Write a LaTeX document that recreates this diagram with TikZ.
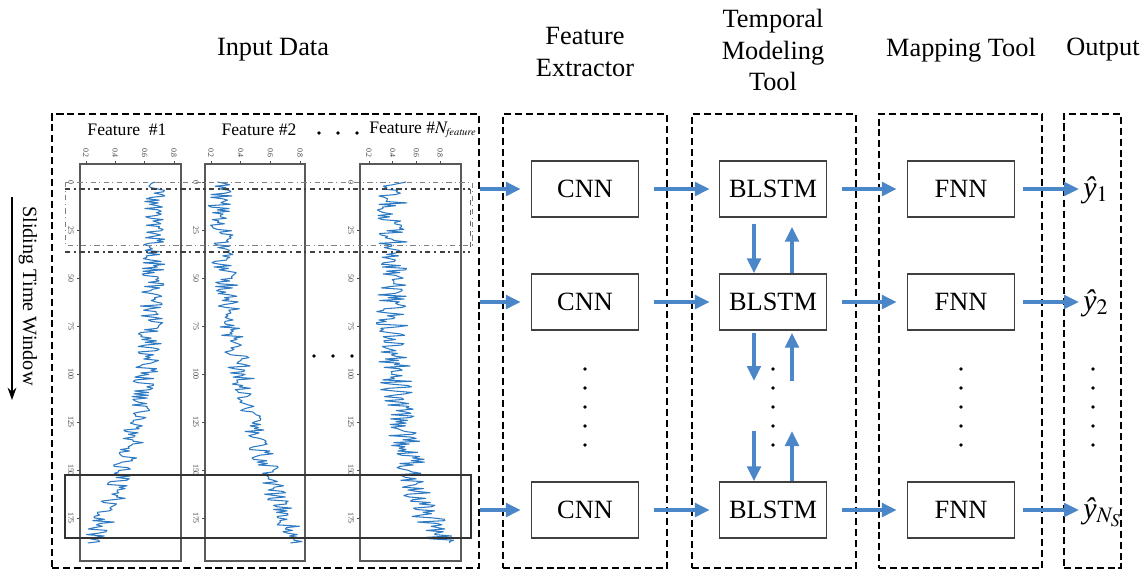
\documentclass[tikz,border=0pt]{standalone}
\usepackage{mathptmx}
\usepackage{fontspec}
\setmainfont{Liberation Serif}
\usetikzlibrary{arrows.meta, positioning}

\definecolor{flowblue}{RGB}{74,134,200}
\definecolor{sigblue}{RGB}{45,122,195}

\begin{document}
\begin{tikzpicture}[
  x=0.02cm, y=-0.02cm,
  font=\fontsize{15}{18}\selectfont,
  stagebox/.style = {
    draw=black, dash pattern=on 4pt off 2.2pt,
    line width=1.1pt, minimum height=9.08cm, inner sep=0pt
  },
  netbox/.style = {
    rectangle, draw=black!75, line width=0.8pt,
    minimum width=2.14cm, minimum height=1.12cm, inner sep=0pt
  },
  headlbl/.style = {align=center, font=\fontsize{15}{18}\selectfont},
  arr/.style = {-{Triangle[length=0.3cm, width=0.27cm]}, line width=2.3pt, flowblue},
  plotframe/.style = {draw=black!65, line width=0.6pt},
  sig/.style = {sigblue, line width=0.6pt, line join=round},
  ticklbl/.style = {font=\fontsize{4.5}{5}\selectfont, rotate=-90, inner sep=0.5pt, text=black!75},
  featlbl/.style = {font=\fontsize{10}{12}\selectfont, inner sep=1pt},
  outlbl/.style = {anchor=base west, inner sep=0pt, font=\fontsize{17}{18}\selectfont}
]
\useasboundingbox (0,0) rectangle (1147,572);

% Stages
\node[stagebox, minimum width=8.54cm] (inbox)  at (265.5,341) {};
\node[stagebox, minimum width=3.28cm] (fexbox) at (585,341) {};
\node[stagebox, minimum width=3.28cm] (tmbox)  at (774,341) {};
\node[stagebox, minimum width=3.26cm] (mapbox) at (960.5,341) {};
\node[stagebox, minimum width=1.14cm] (outbox) at (1092.5,341) {};

% Headers
\node[headlbl] (hin)  at (273,50)  {Input Data};
\node[headlbl] (hfex) at (585,52)  {Feature\\Extractor};
\node[headlbl] (htm)  at (773,50)  {Temporal\\Modeling\\Tool};
\node[headlbl] (hmap) at (961,50)  {Mapping Tool};
\node[headlbl] (hout) at (1103,50) {Output};

% Input data: feature plots
\node[featlbl] (f1)  at (127,130) {Feature~~\#1};
\node[featlbl] (f2)  at (259,130) {Feature \#2};
\node[featlbl] (fn)  at (423,130) {Feature \#$N_{\scriptscriptstyle\mathit{feature}}$};
\foreach \xx in {319,338,357} \fill (\xx,133) circle (1.1pt);
\foreach \xx in {314,333,352} \fill (\xx,356) circle (1.1pt);

\foreach \fl/\fr/\xa/\dx in {80/181/86/29.3, 205/305/211/29.7, 360/461/369/23.7} {
  \draw[plotframe] (\fl,164) rectangle (\fr,561);
  \foreach \lbl [count=\i] in {0.2,0.4,0.6,0.8} {
    \draw[black!70, line width=0.4pt] (\xa+\dx*\i-\dx,164) -- ++(0,-3);
    \node[ticklbl] (tx\fl-\i) at (\xa+\dx*\i-\dx,153) {\lbl};
  }
  \foreach \v in {0,25,...,175} {
    \draw[black!70, line width=0.4pt] (\fl,182+1.92*\v) -- ++(-3,0);
    \node[ticklbl] (lx\fl-\v) at (\fl-9,182+1.92*\v) {\v};
  }
}

\pgfmathsetseed{11}
\begin{scope}
  \clip (80,164) rectangle (181,561);
  \draw[sig] plot[domain=0:188, samples=260, variable=\t]
    ({155-62*(\t/188)^3+12*rand}, {182+1.92*\t});
\end{scope}
\begin{scope}
  \clip (205,164) rectangle (305,561);
  \draw[sig] plot[domain=0:188, samples=260, variable=\t]
    ({220+75*(\t/188)^2+12*rand}, {182+1.92*\t});
\end{scope}
\begin{scope}
  \clip (360,164) rectangle (461,561);
  \draw[sig] plot[domain=0:188, samples=260, variable=\t]
    ({391+50*(\t/188)^4+16*rand}, {182+1.92*\t});
\end{scope}

% Sliding windows
\draw[gray, line width=0.5pt, dash dot] (65,182) rectangle (472,245);
\draw[black!75, line width=1.2pt, dash dot] (65,189) -- (470,189);
\draw[black!75, line width=1.2pt, dash dot] (65,252) -- (470,252);
\draw[black!60, line width=0.5pt, dashed] (470,189) -- (470,252);
\draw[black!80, line width=0.7pt] (65,475) rectangle (471,538);

\node[rotate=-90, font=\fontsize{11.5}{13}\selectfont] (slide) at (28,296) {Sliding Time Window};
\coordinate (slidetop) at (12,197);
\coordinate (slidebot) at (12,400);
\draw[-{Stealth[length=7pt, width=5pt]}, line width=0.8pt] (slidetop) -- (slidebot);

% Row 1
\node[netbox] (cnn1) at (585,189) {CNN};
\node[netbox] (bl1)  at (773,189) {BLSTM};
\node[netbox] (fnn1) at (961,189) {FNN};
\node[outlbl] (y1) at (1083,197) {\textit{ŷ}$_1$};

% Row 2
\node[netbox] (cnn2) at (585,302) {CNN};
\node[netbox] (bl2)  at (773,302) {BLSTM};
\node[netbox] (fnn2) at (961,302) {FNN};
\node[outlbl] (y2) at (1083,310) {\textit{ŷ}$_2$};

% Row 3
\node[netbox] (cnn3) at (585,510) {CNN};
\node[netbox] (bl3)  at (773,510) {BLSTM};
\node[netbox] (fnn3) at (961,510) {FNN};
\node[outlbl] (y3) at (1083,518) {\textit{ŷ}$_{N_S}$};

% Dots between rows
\foreach \yy in {369,388,407,426,445} {
  \fill (585,\yy)  circle (1.1pt);
  \fill (773,\yy)  circle (1.1pt);
  \fill (961,\yy)  circle (1.1pt);
  \fill (1093,\yy) circle (1.1pt);
}

% Horizontal arrows
\foreach \r in {1,2,3} {
  \draw[arr, shorten >=0.2cm] (inbox.east |- cnn\r.west) -- (cnn\r.west);
  \draw[arr, shorten <=0.3cm, shorten >=0.18cm] (cnn\r) -- (bl\r);
  \draw[arr, shorten <=0.3cm, shorten >=0.2cm] (bl\r) -- (fnn\r);
  \draw[arr, shorten <=0.16cm, shorten >=0.08cm] (fnn\r.east) -- (fnn\r.east -| y\r.west);
}

% Vertical arrows
\coordinate (gapup)  at (773,381);
\coordinate (gaplow) at (773,431);
\draw[arr, shorten <=0.12cm] ([xshift=-0.38cm]bl1.south) -- ([xshift=-0.38cm]bl2.north);
\draw[arr, shorten >=0.18cm] ([xshift=0.38cm]bl2.north) -- ([xshift=0.38cm]bl1.south);
\draw[arr, shorten <=0.04cm] ([xshift=-0.38cm]bl2.south) -- ([xshift=-0.38cm]gapup);
\draw[arr, shorten >=0.04cm] ([xshift=0.38cm]gapup) -- ([xshift=0.38cm]bl2.south);
\draw[arr] ([xshift=-0.38cm]gaplow) -- ([xshift=-0.38cm]bl3.north);
\draw[arr] ([xshift=0.38cm]bl3.north) -- ([xshift=0.38cm]gaplow);
\end{tikzpicture}
\end{document}
